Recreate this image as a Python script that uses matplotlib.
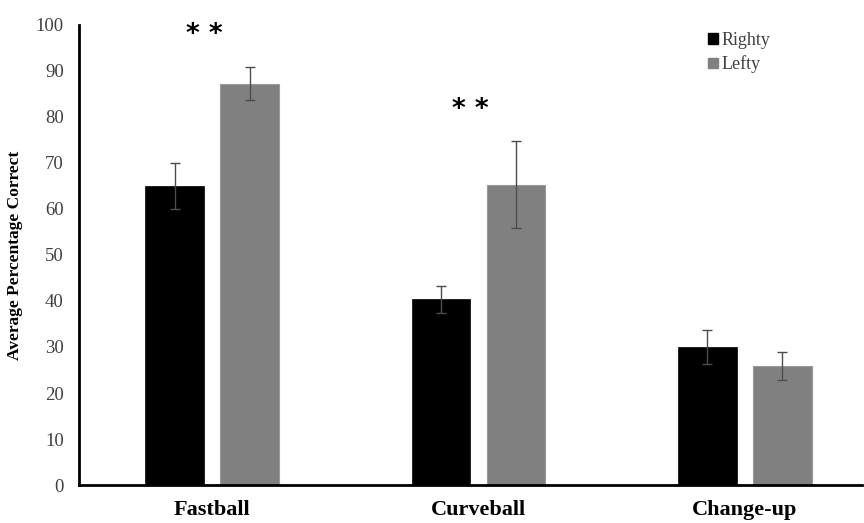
import numpy as np
import matplotlib.pyplot as plt
from matplotlib.patches import Patch

categories = ['Fastball', 'Curveball', 'Change-up']
righty = [65.0, 40.4, 30.0]
righty_err = [5.0, 2.9, 3.6]
lefty = [87.2, 65.3, 25.9]
lefty_err = [3.6, 9.5, 3.0]
stars = ['* *', '* *', '']
star_y = [97.8, 81.5, 0]

plt.rcParams['font.family'] = ['Liberation Serif', 'DejaVu Serif']

fig = plt.figure(figsize=(8.64, 5.23), dpi=100)
ax = fig.add_axes([79 / 864, 1 - 485 / 523, (862 - 79) / 864, 460 / 523])

x = np.arange(len(categories))
w = 0.221
off = 0.141
ax.bar(x - off, righty, w, color='black', edgecolor='black', linewidth=0.5,
       yerr=righty_err, error_kw=dict(ecolor='#4d4d4d', elinewidth=1, capsize=3.5, capthick=1))
ax.bar(x + off, lefty, w, color='#808080', edgecolor='#9a9a9a', linewidth=0.8,
       yerr=lefty_err, error_kw=dict(ecolor='#4d4d4d', elinewidth=1, capsize=3.5, capthick=1))

for i, s in enumerate(stars):
    if s:
        ax.text(x[i] - 0.03, star_y[i], s, ha='center', va='center',
                fontsize=19, fontweight='bold', family='DejaVu Sans')

ax.set_ylim(0, 100)
ax.set_xlim(-0.5, 2.44)
ax.set_yticks(range(0, 101, 10))
ax.set_xticks(x)
ax.set_xticklabels(categories, fontsize=16, fontweight='bold')
ax.tick_params(axis='y', length=0, pad=11, labelsize=13.5, labelcolor='#404040')
ax.tick_params(axis='x', length=0, pad=11)
for sp in ['top', 'right']:
    ax.spines[sp].set_visible(False)
for sp in ['left', 'bottom']:
    ax.spines[sp].set_linewidth(2)
ax.set_ylabel('Average Percentage Correct', fontsize=12.5, fontweight='bold', labelpad=9)

handles = [Patch(facecolor='black', edgecolor='black'), Patch(facecolor='#808080', edgecolor='#808080')]
fig.legend(handles, ['Righty', 'Lefty'], loc='upper left', bbox_to_anchor=(692 / 864, 1 - 16 / 523),
           frameon=False, fontsize=13, handlelength=0.55, handleheight=0.55,
           handletextpad=0.2, labelspacing=0.35, labelcolor='#404040')

fig.savefig('out.png', dpi=100)
